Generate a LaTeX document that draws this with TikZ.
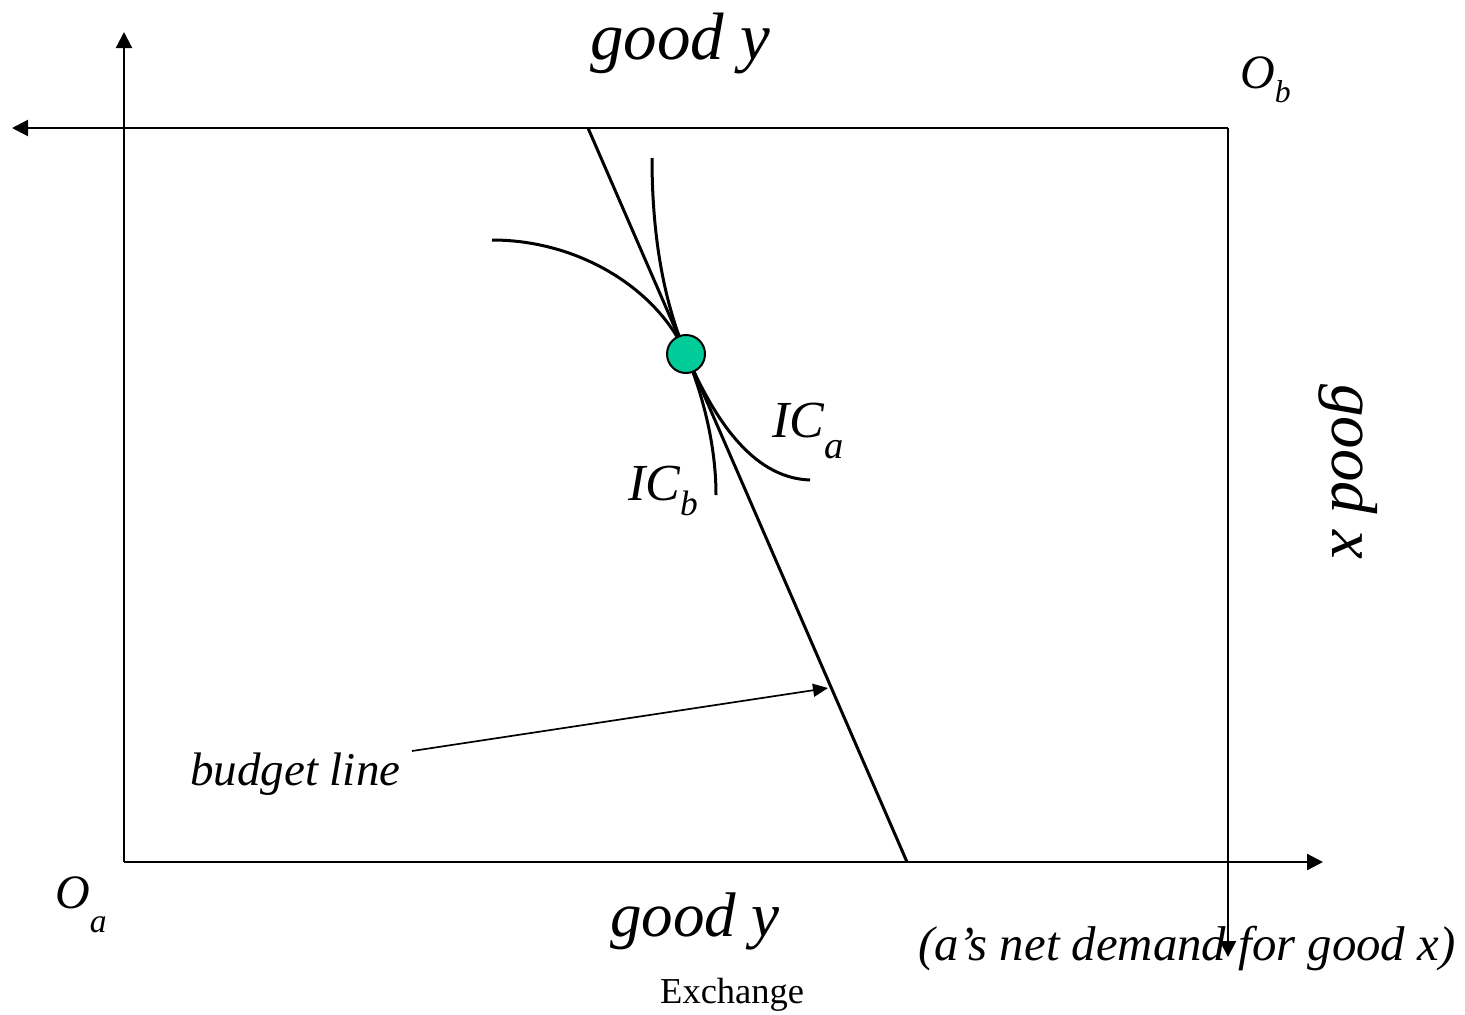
\documentclass[tikz,border=0pt]{standalone}
\usepackage{fontspec}
\setmainfont{Liberation Serif}
\usetikzlibrary{arrows.meta}
\definecolor{dotgreen}{RGB}{0,204,153}
% #1 = drop below baseline, #2 = scale, #3 = text
\newcommand\lowsub[3]{\raisebox{-#1em}{\scalebox{#2}{#3}}}
\begin{document}
\begin{tikzpicture}[x=1pt,y=-1pt,
  axis/.style={line width=2.2pt,-{Triangle[length=16pt,width=16pt]}},
  pointer/.style={line width=1.7pt,-{Triangle[length=15pt,width=13pt]}},
  curve/.style={line width=3pt},
  lbl/.style={inner sep=0pt,anchor=base west}]
\useasboundingbox (0,0) rectangle (1465,1015);
% axes
\coordinate (Oa) at (124,862);
\coordinate (ytop) at (124,32);
\coordinate (xright) at (1323,862);
\coordinate (Ob) at (1228,128);
\coordinate (xleft) at (12,128);
\coordinate (ydown) at (1228,957);
\draw[axis] (Oa) -- (ytop);
\draw[axis] (Oa) -- (xright);
\draw[axis] (Ob) -- (xleft);
\draw[axis] (Ob) -- (ydown);
% budget line
\coordinate (bl1) at (588,128);
\coordinate (bl2) at (907,862);
\draw[curve] (bl1) -- (bl2);
% indifference curves
\coordinate (tan) at (686,354);
\coordinate (icbtop) at (652,158);
\coordinate (icbbot) at (716,495);
\coordinate (icaleft) at (492,240);
\coordinate (icaright) at (810,480);
\draw[curve] (icbtop) .. controls (652,260) and (672,320) .. (tan)
  .. controls (700,388) and (716,440) .. (icbbot);
\draw[curve] (icaleft) .. controls (580,240) and (658,290) .. (tan)
  .. controls (712,414) and (750,478) .. (icaright);
\node[circle,fill=dotgreen,draw=black,line width=2pt,minimum size=38pt,inner sep=0pt] (E) at (tan) {};
% budget line pointer
\coordinate (ptrstart) at (412,751);
\coordinate (ptrtip) at (828,688);
\draw[pointer] (ptrstart) -- (ptrtip);
% labels
\node[lbl,font=\fontsize{67}{70}\selectfont\itshape] (gytop) at (590,59) {good y};
\node[lbl,font=\fontsize{63}{66}\selectfont\itshape] (gybot) at (610,936) {good y};
\node[lbl,font=\fontsize{48}{50}\selectfont\itshape] (lOb) at (1240,88) {O\lowsub{0.3}{0.66}{b}};
\node[lbl,font=\fontsize{48}{50}\selectfont\itshape] (lOa) at (55,908) {O\lowsub{0.5}{0.7}{a}};
\node[lbl,font=\fontsize{52}{54}\selectfont\itshape] (lICa) at (772,437) {IC\lowsub{0.42}{0.74}{a}};
\node[lbl,font=\fontsize{52}{54}\selectfont\itshape] (lICb) at (628,500) {IC\lowsub{0.29}{0.68}{b}};
\node[lbl,font=\fontsize{47}{50}\selectfont\itshape] (lbud) at (190,785) {budget line};
\node[lbl,font=\fontsize{48.8}{50}\selectfont\itshape] (lnet) at (918,960) {(a’s net demand for good x)};
\node[lbl,font=\fontsize{36.5}{40}\selectfont] (lex) at (660,1003) {Exchange};
\node[inner sep=0pt,rotate=-90,font=\fontsize{65}{68}\selectfont\itshape] (gx) at (1348,472) {good x};
\end{tikzpicture}
\end{document}
